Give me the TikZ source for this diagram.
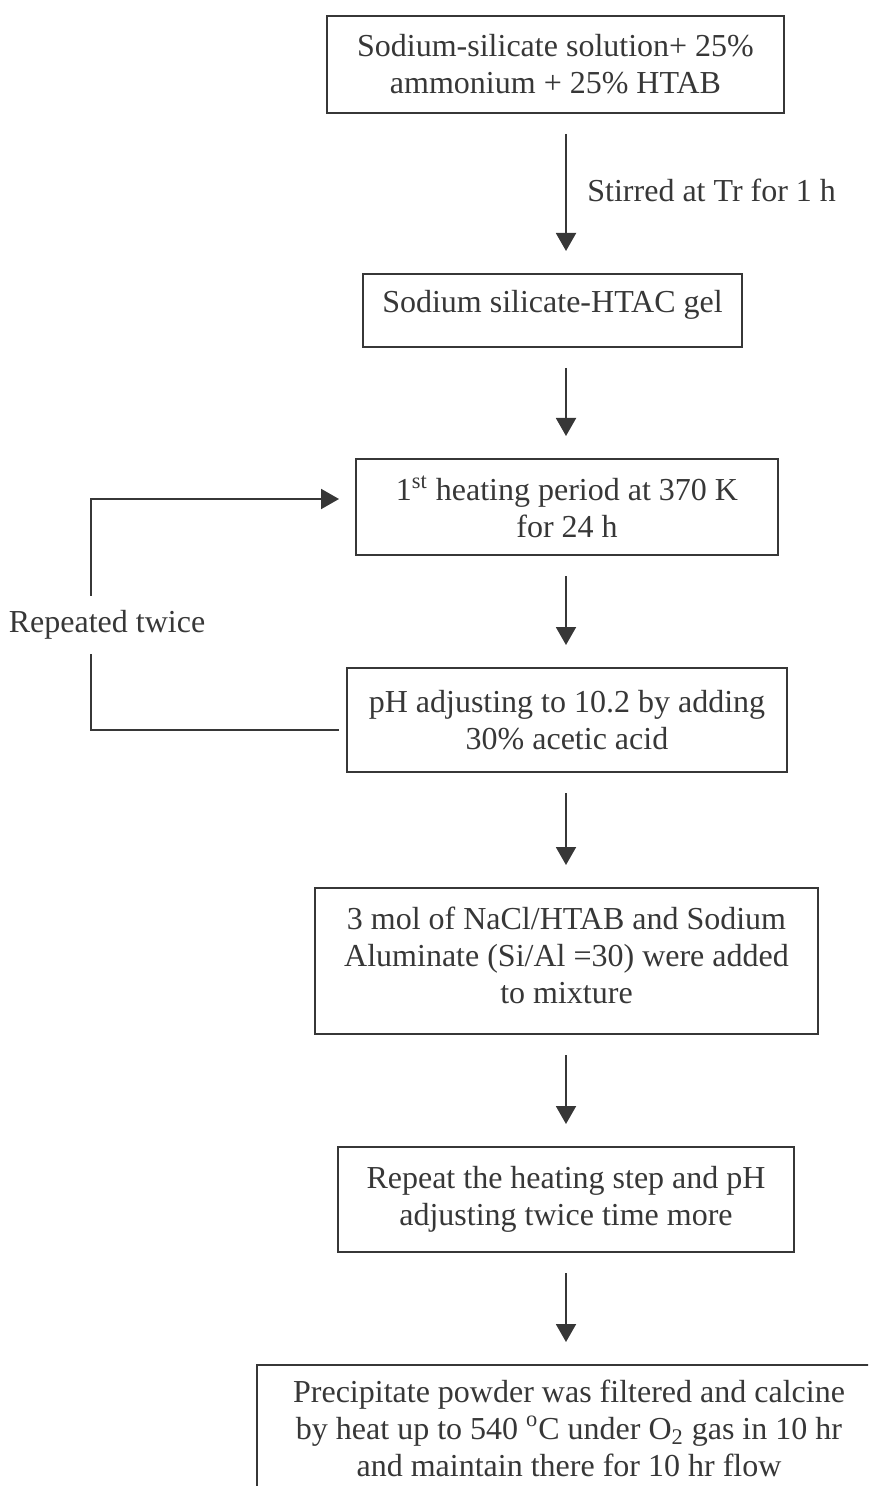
\documentclass[tikz,border=0pt]{standalone}
\usepackage{fontspec}
\setmainfont{Liberation Serif}
\usetikzlibrary{arrows.meta,calc}
\definecolor{ink}{RGB}{55,55,55}
\begin{document}
\begin{tikzpicture}[x=0.5pt,y=-0.5pt,
  box/.style={draw=ink, line width=1pt, text=ink, align=center, inner sep=0pt,
    font=\fontsize{16pt}{18.5pt}\selectfont},
  flow/.style={draw=ink, line width=1pt, -{Triangle[width=10pt,length=9pt]},
    shorten <=10pt, shorten >=11pt},
  link/.style={draw=ink, line width=1pt},
  lbl/.style={text=ink, inner sep=0pt, font=\fontsize{16pt}{18.5pt}\selectfont}]
\useasboundingbox (0,0) rectangle (868,1486);
\clip (0,0) rectangle (868,1486);

\node[box, minimum width=228.5pt, minimum height=48.5pt] (b1) at (555.5,64.5)
  {Sodium-silicate solution+ 25\%\\ammonium + 25\% HTAB};
\node[box, minimum width=189.5pt, minimum height=36.5pt, text height=6pt, text depth=3.5pt] (b2) at (552.5,310.5)
  {Sodium silicate-HTAC gel};
\node[box, minimum width=211pt, minimum height=48pt] (b3) at (567,507)
  {1\textsuperscript{st} heating period at 370 K\\for 24 h};
\node[box, minimum width=220pt, minimum height=52pt] (b4) at (567,720)
  {pH adjusting to 10.2 by adding\\30\% acetic acid};
\node[box, minimum width=251.5pt, minimum height=73pt, text depth=6pt] (b5) at (566.5,961)
  {3 mol of NaCl/HTAB and Sodium\\Aluminate (Si/Al =30) were added\\to mixture};
\node[box, minimum width=228pt, minimum height=52.5pt] (b6) at (566,1199.5)
  {Repeat the heating step and pH\\adjusting twice time more};
\node[box, anchor=north west, minimum width=312pt, minimum height=63pt] (b7) at (256,1364)
  {Precipitate powder was filtered and calcine\\by heat up to 540 \textsuperscript{o}C under O\textsubscript{2} gas in 10 hr\\and maintain there for 10 hr flow};

\coordinate (ax) at (566,0);
\coordinate (lp) at (91,0);
\node[lbl, anchor=base west] (st) at (587,202) {Stirred at Tr for 1 h};
\node[lbl, minimum height=29pt] (rt) at (107,625) {Repeated twice};

\draw[flow] (b1.south -| ax) -- (b2.north -| ax);
\draw[flow] (b2.south -| ax) -- (b3.north -| ax);
\draw[flow] (b3.south -| ax) -- (b4.north -| ax);
\draw[flow] (b4.south -| ax) -- (b5.north -| ax);
\draw[flow] (b5.south -| ax) -- (b6.north -| ax);
\draw[flow] (b6.south -| ax) -- (b7.north -| ax);

\draw[link] ([shift={(-7,10)}]b4.west) -| (lp |- rt.south);
\draw[flow, shorten <=0pt, shorten >=0pt] (lp |- rt.north) |- ([shift={(-16,-8)}]b3.west);
\end{tikzpicture}
\end{document}
